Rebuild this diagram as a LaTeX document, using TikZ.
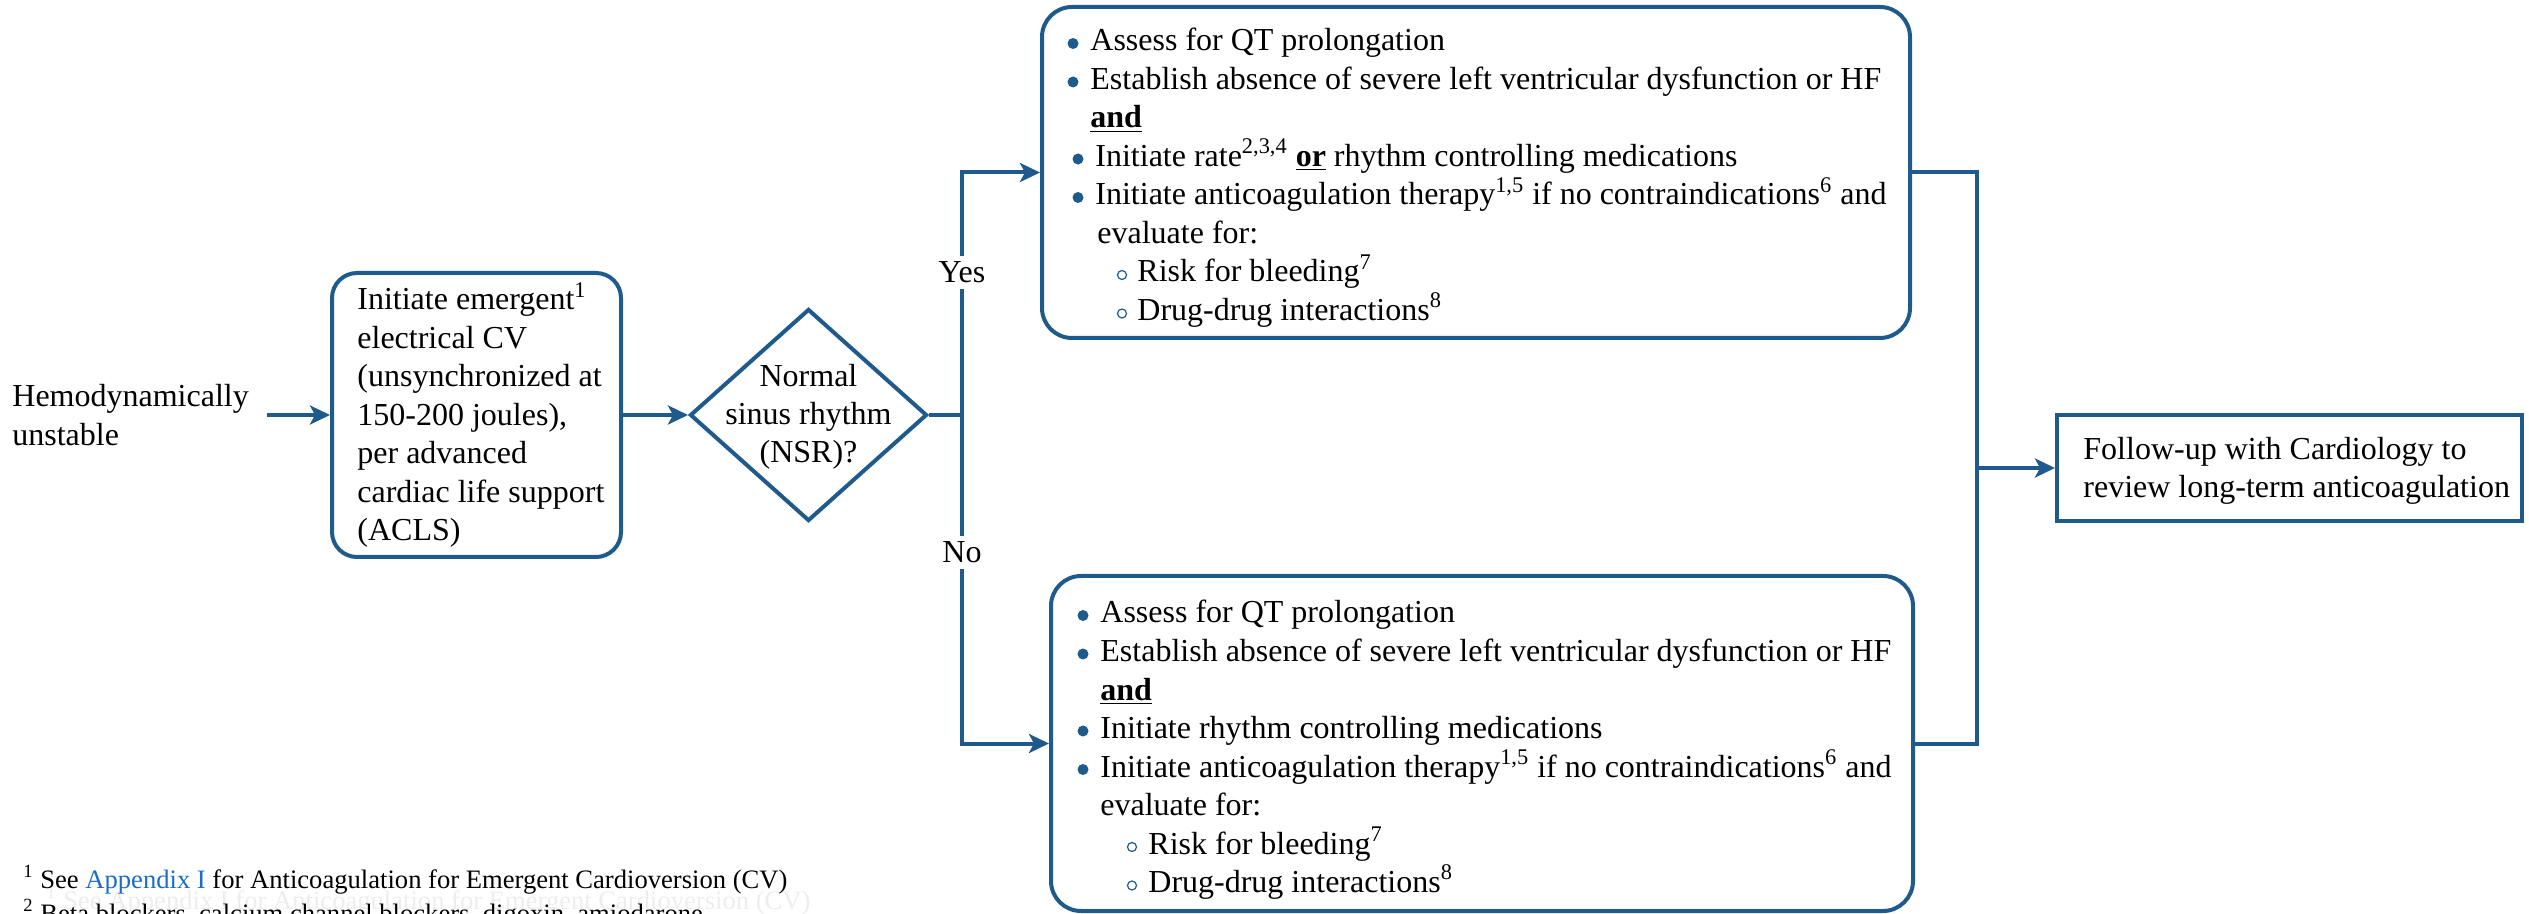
\documentclass[tikz,border=0pt]{standalone}
\usepackage{fontspec}
\setmainfont{Liberation Serif}
\usetikzlibrary{arrows.meta,shapes.geometric}
\definecolor{fblue}{RGB}{30,90,140}
\definecolor{linkblue}{RGB}{25,110,200}
\newcommand\ul[1]{\underline{\textbf{#1}}}
\begin{document}
\begin{tikzpicture}[x=0.5pt,y=-0.5pt,
  every node/.style={font=\fontsize{16}{19.25}\selectfont},
  conn/.style={draw=fblue, line width=2pt},
  arr/.style={conn, -{Stealth[length=10pt,width=9.5pt,inset=2.5pt]}},
  flowbox/.style={draw=fblue, line width=2pt, inner sep=0pt},
  tl/.style={anchor=base west, inner sep=0pt},
  tc/.style={anchor=base, inner sep=0pt},
  lbl/.style={anchor=base, fill=white, inner xsep=2pt, inner ysep=3pt},
  fn/.style={anchor=base west, inner sep=0pt, font=\fontsize{13.3}{16}\selectfont},
  bulletdot/.style={fill=fblue},
  subdot/.style={draw=fblue, line width=0.6pt},
]
\useasboundingbox (0,0) rectangle (2529,914);
\clip (0,0) rectangle (2529,914);

% ---------- boxes ----------
\node[flowbox, rounded corners=12.5pt, minimum width=144.5pt, minimum height=142pt] (cv) at (476.5,415) {};
\node[flowbox, diamond, minimum width=118.5pt, minimum height=106pt] (nsr) at (808.5,415) {};
\node[flowbox, rounded corners=15pt, minimum width=434pt, minimum height=165.5pt] (yesbox) at (1476,172.5) {};
\node[flowbox, rounded corners=15pt, minimum width=431pt, minimum height=167.5pt] (nobox) at (1482,743.5) {};
\node[flowbox, minimum width=232.5pt, minimum height=53pt] (follow) at (2289.5,468) {};

% ---------- start text ----------
\node[anchor=west, inner xsep=9pt, inner ysep=0pt, align=left] (hemo) at (-6,415) {Hemodynamically\\unstable};

% ---------- CV box text ----------
\node[tl] (cv1) at (357,310) {Initiate emergent\textsuperscript{1}};
\node[tl] (cv2) at (357,348.5) {electrical CV};
\node[tl] (cv3) at (357,387) {(unsynchronized at};
\node[tl] (cv4) at (357,425.5) {150-200 joules),};
\node[tl] (cv5) at (357,464) {per advanced};
\node[tl] (cv6) at (357,502.5) {cardiac life support};
\node[tl] (cv7) at (357,541) {(ACLS)};

% ---------- decision text ----------
\node[tc] (nsr1) at (808.5,387) {Normal};
\node[tc] (nsr2) at (808.5,425) {sinus rhythm};
\node[tc] (nsr3) at (808.5,463) {(NSR)?};

% ---------- Yes box text ----------
\node[tl] (y1) at (1090,51) {Assess for QT prolongation};
\node[tl] (y2) at (1090,89.5) {Establish absence of severe left ventricular dysfunction or HF};
\node[tl] (y3) at (1090,128) {\ul{and}};
\node[tl] (y4) at (1095,166.5) {Initiate rate\textsuperscript{2,3,4} \ul{or} rhythm controlling medications};
\node[tl] (y5) at (1095,205) {Initiate anticoagulation therapy\textsuperscript{1,5} if no contraindications\textsuperscript{6} and};
\node[tl] (y6) at (1097,243.5) {evaluate for:};
\node[tl] (y7) at (1137,282) {Risk for bleeding\textsuperscript{7}};
\node[tl] (y8) at (1137,320.5) {Drug-drug interactions\textsuperscript{8}};
\foreach \bx/\by in {1073/51, 1073/89.5, 1078/166.5, 1078/205}
  \fill[bulletdot] (\bx,\by-7.5) circle (5.5);
\foreach \bx/\by in {1122/282, 1122/320.5}
  \draw[subdot] (\bx,\by-7) circle (4.5);

% ---------- No box text ----------
\node[tl] (n1) at (1100,623) {Assess for QT prolongation};
\node[tl] (n2) at (1100,661.5) {Establish absence of severe left ventricular dysfunction or HF};
\node[tl] (n3) at (1100,700) {\ul{and}};
\node[tl] (n4) at (1100,738.5) {Initiate rhythm controlling medications};
\node[tl] (n5) at (1100,777) {Initiate anticoagulation therapy\textsuperscript{1,5} if no contraindications\textsuperscript{6} and};
\node[tl] (n6) at (1100,815.5) {evaluate for:};
\node[tl] (n7) at (1148,854) {Risk for bleeding\textsuperscript{7}};
\node[tl] (n8) at (1148,892.5) {Drug-drug interactions\textsuperscript{8}};
\foreach \bx/\by in {1083/623, 1083/661.5, 1083/738.5, 1083/777}
  \fill[bulletdot] (\bx,\by-7.5) circle (5.5);
\foreach \bx/\by in {1132/854, 1132/892.5}
  \draw[subdot] (\bx,\by-7) circle (4.5);

% ---------- follow-up text ----------
\node[tl] (f1) at (2083,460) {Follow-up with Cardiology to};
\node[tl] (f2) at (2083,498) {review long-term anticoagulation};

% ---------- connectors ----------
\coordinate (split) at (962,415);
\coordinate (merge) at (1977,468);
\draw[arr] (hemo.east) -- (cv.west);
\draw[arr] (cv.east) -- (nsr.west);
\draw[conn] (nsr.east) -- (split);
\draw[arr] (split) |- (yesbox.west);
\draw[arr] (split) |- (nobox.west);
\draw[conn] (yesbox.east) -| (merge) |- (nobox.east);
\draw[arr] (merge) -- (follow.west);

\node[lbl] (yes) at (962,283) {Yes};
\node[lbl] (no) at (962,563) {No};

% ---------- footnotes ----------
\node[fn, text=black!7] (ghost) at (46,909) {\textsuperscript{1} See Appendix I for Anticoagulation for Emergent Cardioversion (CV)};
\node[fn] (fn1) at (23,888) {\textsuperscript{1} See \textcolor{linkblue}{Appendix I} for Anticoagulation for Emergent Cardioversion (CV)};
\node[fn] (fn2) at (23,922) {\textsuperscript{2} Beta blockers, calcium channel blockers, digoxin, amiodarone};
\end{tikzpicture}
\end{document}
